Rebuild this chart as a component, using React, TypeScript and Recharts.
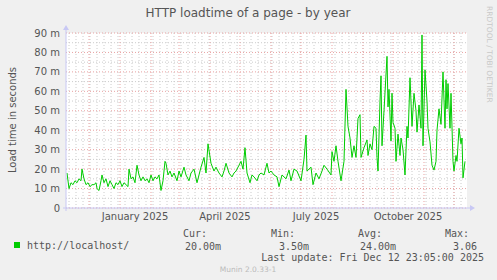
import { LineChart, Line, XAxis, YAxis, CartesianGrid } from "recharts";

// Dag-index (0 = 8 nov 2024) och laddtid i millisekunder
const sampleDays = [
  1, 3, 5, 7, 9, 11, 13, 15, 16, 18, 20, 22, 24, 26, 28, 30, 31, 33, 35, 36, 38, 40, 42, 44, 46, 48, 50, 52, 54, 56,
  58, 60, 62, 63, 65, 67, 69, 71, 73, 75, 77, 79, 81, 83, 85, 87, 89, 91, 93, 95, 97, 99,
  100, 102, 104, 106, 108, 111, 113, 115, 118, 120, 123, 125, 128, 131, 133, 135, 138, 140, 142, 145, 148, 150,
  153, 156, 158, 160, 163, 166, 168, 170, 173, 175, 177, 179, 181, 184, 186, 188, 191, 193, 195, 198,
  201, 203, 205, 208, 211, 213, 216, 220, 223, 225, 228, 231, 235, 238, 240, 241, 245, 247, 250, 253, 256, 258,
  261, 265, 266, 268, 270, 272, 275, 278, 280, 282, 284, 286, 288, 290, 292, 294, 295, 298,
  301, 302, 304, 306, 308, 310, 311, 312, 314, 315, 316, 318, 321, 322, 323, 325, 326, 327, 329, 330, 332, 334,
  335, 337, 339, 341, 342, 344, 346, 348, 350, 351, 353, 355, 356, 357, 359, 361, 362, 364, 366, 368, 370, 371,
  373, 375, 377, 379, 380, 381, 382, 384, 385, 387, 388, 390, 391, 393, 395, 396, 397, 399,
];

const loadTimeMs = [
  18, 10, 13, 12, 14, 13, 15, 14, 20, 15, 12, 13, 11, 12, 12, 13, 10, 9, 14, 17, 13, 15, 11, 14, 12, 10, 13, 12, 14, 11,
  13, 12, 11, 20, 15, 16, 13, 22, 17, 14, 16, 14, 15, 13, 17, 14, 16, 15, 17, 9, 14, 24,
  23, 17, 19, 16, 18, 14, 19, 16, 21, 17, 14, 18, 20, 13, 17, 21, 26, 18, 33, 23, 19, 21,
  18, 16, 19, 23, 18, 16, 18, 19, 22, 24, 20, 31, 18, 13, 17, 16, 14, 17, 18, 17,
  23, 18, 19, 17, 16, 11, 17, 15, 19.5, 14, 20, 19, 14, 25, 37.5, 19, 21, 12, 18, 15, 19, 22,
  20, 17, 29, 24, 32, 24, 14, 24, 61, 42, 36, 26, 32, 26, 46, 48, 26, 31,
  35, 27, 33, 30, 42, 41, 26, 19, 55, 68, 32, 50, 78, 52, 61, 34.5, 59, 44, 41, 24, 38, 27,
  36, 30, 17, 42, 36, 67, 42, 59, 50, 39, 53, 41, 89, 32, 71, 55, 41, 34, 22, 19.5, 24, 40,
  51, 43, 70, 41, 66, 51, 64, 41, 59, 24, 19, 27, 24, 41, 33, 36, 15.5, 24,
];

const yTicks = [0, 10, 20, 30, 40, 50, 60, 70, 80, 90];
const yMinorTicks = [5, 15, 25, 35, 45, 55, 65, 75, 85];

const START = Date.UTC(2024, 10, 8);
const dayOf = (y: number, m: number, d: number) => (Date.UTC(y, m, d) - START) / 86400000;

// Månadsgränser (röda linjer) och veckor (grå linjer)
const monthStarts = [
  [2024, 11], [2025, 0], [2025, 1], [2025, 2], [2025, 3], [2025, 4], [2025, 5],
  [2025, 6], [2025, 7], [2025, 8], [2025, 9], [2025, 10], [2025, 11],
].map(([y, m]) => dayOf(y, m, 1));
const weekStarts = Array.from({ length: 58 }, (_, i) => 3 + i * 7).filter((d) => d < 401);

// Etiketter mitt i månaden
const xLabelNames = ["January 2025", "April 2025", "July 2025", "October 2025"];
const xLabelDays = [dayOf(2025, 0, 16), dayOf(2025, 3, 16), dayOf(2025, 6, 16), dayOf(2025, 9, 16)];

const data = sampleDays.map((day, i) => ({ day, load: loadTimeMs[i] }));

const W = 497;
const H = 280;
const PLOT_L = 66;
const PLOT_R = 467;
const PLOT_T = 33;
const PLOT_B = 208;
const Y_AXIS_W = 40;
const X_AXIS_H = 20;

const mono = "'DejaVu Sans Mono', monospace";
const sans = "'DejaVu Sans', sans-serif";

const App = () => {
  return (
    <div style={{ position: "absolute", left: 0, top: 0, width: W, height: H, background: "#f0f0f0" }}>
      <LineChart
        width={W}
        height={H}
        data={data}
        margin={{ top: PLOT_T, left: PLOT_L - Y_AXIS_W, right: W - PLOT_R, bottom: H - PLOT_B - X_AXIS_H }}
      >
        <CartesianGrid
          fill="#ffffff"
          stroke="#cccccc"
          strokeDasharray="1 2"
          horizontalValues={yMinorTicks}
          verticalValues={weekStarts}
        />
        <CartesianGrid
          stroke="#e9a3a3"
          strokeDasharray="1 2"
          horizontalValues={yTicks}
          verticalValues={monthStarts}
        />
        <XAxis
          dataKey="day"
          type="number"
          domain={[0, 401]}
          ticks={xLabelDays}
          tickFormatter={(v) => xLabelNames[xLabelDays.indexOf(v)] ?? ""}
          axisLine={false}
          tickLine={false}
          tickSize={0}
          tickMargin={5}
          height={X_AXIS_H}
          interval={0}
          tick={{ fill: "#555", fontSize: 10, fontFamily: sans }}
        />
        <YAxis
          type="number"
          domain={[0, 90]}
          ticks={yTicks}
          tickFormatter={(v) => (v === 0 ? "0" : `${v} m`)}
          axisLine={false}
          tickLine={false}
          tickSize={0}
          tickMargin={6}
          width={Y_AXIS_W}
          interval={0}
          tick={{ fill: "#555", fontSize: 10, fontFamily: sans }}
        />
        <Line
          type="linear"
          dataKey="load"
          stroke="#00cc00"
          strokeWidth={1}
          dot={false}
          isAnimationActive={false}
        />
      </LineChart>

      <svg width={W} height={H} style={{ position: "absolute", left: 0, top: 0, pointerEvents: "none" }}>
        {/* axlar med pilar */}
        <line x1={PLOT_L} y1={PLOT_B + 3} x2={PLOT_L} y2={PLOT_T - 4} stroke="#c8c8f4" />
        <path d={`M${PLOT_L - 3},${PLOT_T - 3} L${PLOT_L + 3},${PLOT_T - 3} L${PLOT_L},${PLOT_T - 8} Z`} fill="#c8c8f4" />
        <line x1={PLOT_L - 3} y1={PLOT_B} x2={PLOT_R + 4} y2={PLOT_B} stroke="#c8c8f4" />
        <path d={`M${PLOT_R + 3},${PLOT_B - 3} L${PLOT_R + 3},${PLOT_B + 3} L${PLOT_R + 8},${PLOT_B} Z`} fill="#c8c8f4" />

        <text x={248} y={17} textAnchor="middle" fontFamily={sans} fontSize={12} fill="#555">
          HTTP loadtime of a page - by year
        </text>
        <text
          x={12}
          y={120}
          transform="rotate(-90 12 120)"
          textAnchor="middle"
          dominantBaseline="central"
          fontFamily={sans}
          fontSize={10}
          fill="#555"
        >
          Load time in seconds
        </text>
        <text
          x={489}
          y={6}
          transform="rotate(90 489 6)"
          dominantBaseline="central"
          fontFamily={sans}
          fontSize={7.5}
          fill="#c8c8c8"
        >
          RRDTOOL / TOBI OETIKER
        </text>

        {/* legend */}
        <rect x={14} y={242} width={6} height={6} fill="#00cc00" />
        <g fontFamily={mono} fontSize={10} fill="#555">
          <text x={27} y={249}>http://localhost/</text>
          <text x={207} y={237} textAnchor="end">Cur:</text>
          <text x={221} y={250} textAnchor="end">20.00m</text>
          <text x={295} y={237} textAnchor="end">Min:</text>
          <text x={309} y={250} textAnchor="end">3.50m</text>
          <text x={382} y={237} textAnchor="end">Avg:</text>
          <text x={396} y={250} textAnchor="end">24.00m</text>
          <text x={469} y={237} textAnchor="end">Max:</text>
          <text x={477} y={250} textAnchor="end">3.06</text>
          <text x={484} y={261} textAnchor="end">Last update: Fri Dec 12 23:05:00 2025</text>
        </g>
        <text x={248} y={272} textAnchor="middle" fontFamily={sans} fontSize={7.5} fill="#bbb">
          Munin 2.0.33-1
        </text>
      </svg>
    </div>
  );
};

export default App;
